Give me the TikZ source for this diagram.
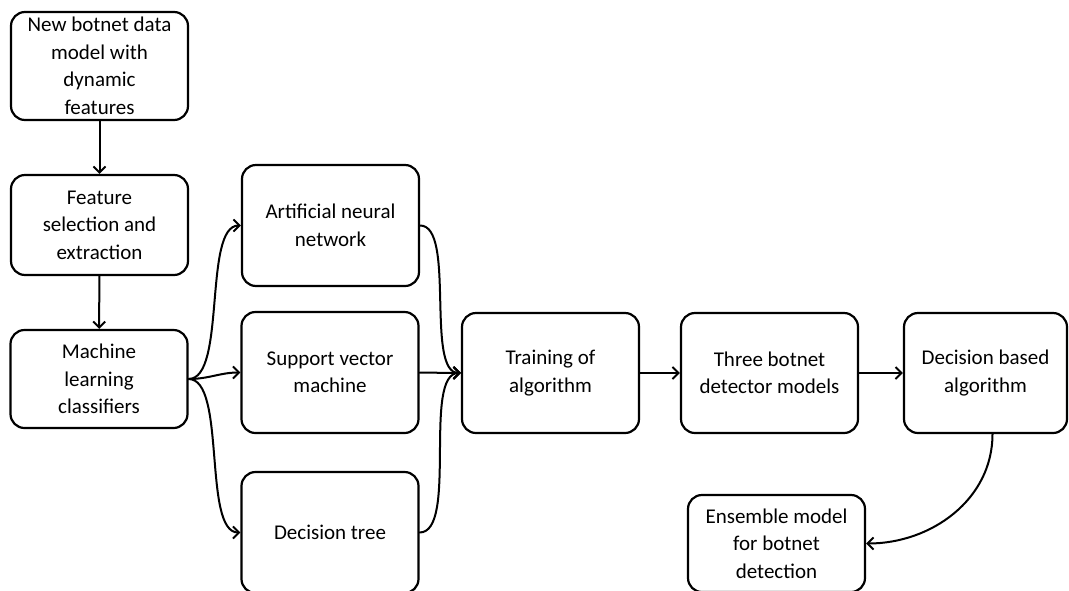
\documentclass[tikz,border=0pt]{standalone}
\usepackage{fontspec}
\setmainfont{Carlito}
\usetikzlibrary{arrows.meta}
\begin{document}
\begin{tikzpicture}[x=1pt,y=-1pt,font=\fontsize{21}{27.5}\selectfont,line join=round,line cap=round,>={Straight Barb[length=6pt,width=12pt]},
	box/.style={draw,line width=2.2pt,rounded corners=14pt,align=center,minimum width=177pt,minimum height=120pt,inner sep=0pt},
	link/.style={->,line width=2pt}]
	\useasboundingbox (0,0) rectangle (1069,590);
	% left column
	\node[box,minimum height=108pt] (data) at (99.5,66) {New botnet data\\model with\\dynamic\\features};
	\node[box,minimum height=100pt] (feat) at (99.5,225) {Feature\\selection and\\extraction};
	\node[box,minimum height=98pt] (mlc) at (99,379) {Machine\\learning\\classifiers};
	% classifiers
	\node[box,minimum height=121pt] (ann) at (330.5,225.5) {Artificial neural\\network};
	\node[box,minimum height=121pt] (svm) at (330,372.5) {Support vector\\machine};
	\node[box,minimum height=121pt] (dt) at (330,532.5) {Decision tree};
	% right row
	\node[box] (train) at (550.5,373) {Training of\\algorithm};
	\node[box] (three) at (769.5,373) {Three botnet\\detector models};
	\node[box,minimum width=163pt] (dec) at (985.5,373) {Decision based\\algorithm};
	\node[box,minimum height=97pt] (ens) at (776.5,543.5) {Ensemble model\\for botnet\\detection};
	\draw[link] (data) -- (feat);
	\draw[link] (feat) -- (mlc);
	\draw[link] (mlc.east) to[out=0,in=180,looseness=0.6] (ann.west);
	\draw[link] (mlc.east) to[out=0,in=180] (svm.west);
	\draw[link] (mlc.east) to[out=0,in=180,looseness=0.6] (dt.west);
	\draw[link] (ann.east) to[out=0,in=180,looseness=0.6] (train.west);
	\draw[link] (svm) -- (train);
	\draw[link] (dt.east) to[out=0,in=180,looseness=0.6] (train.west);
	\draw[link] (train) -- (three);
	\draw[link] (three) -- (dec);
	\draw[link] ([xshift=7pt]dec.south) to[out=-90,in=0] (ens.east);
\end{tikzpicture}
\end{document}
